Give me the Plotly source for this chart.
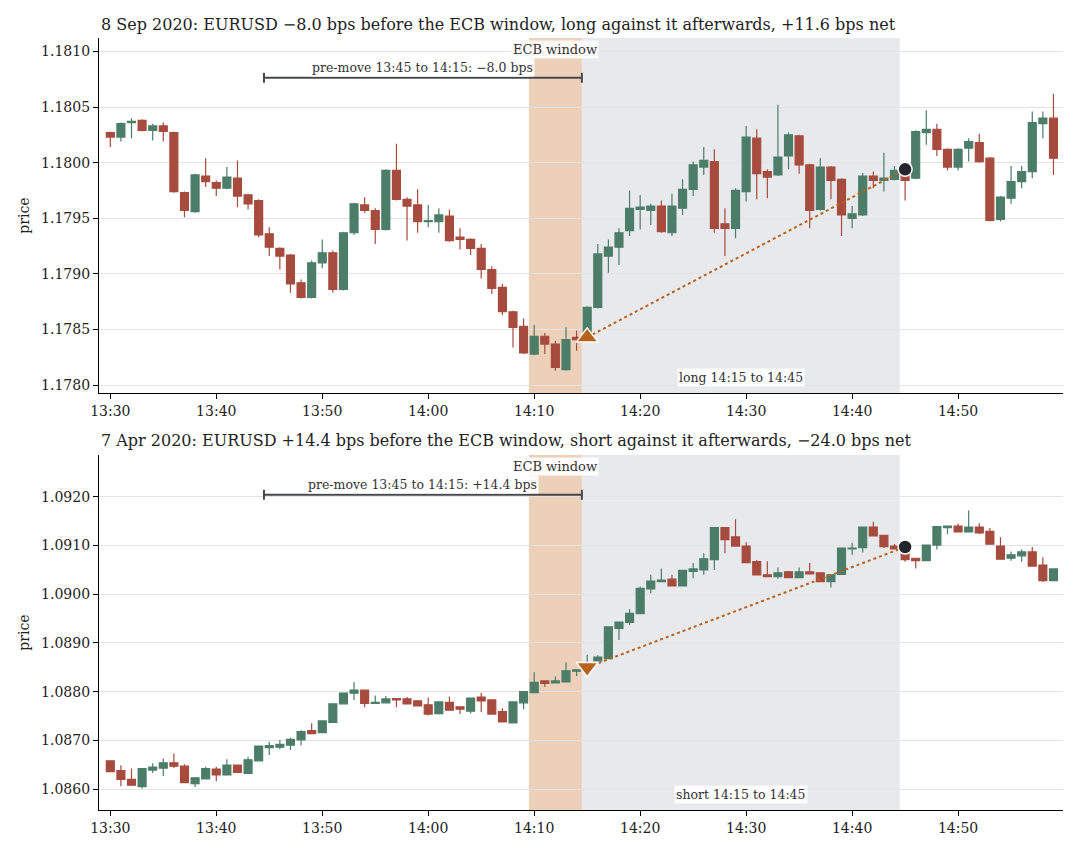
import pandas as pd
import plotly.graph_objects as go
from plotly.subplots import make_subplots

# ---------------- data: 8 Sep 2020, EURUSD 1-minute candles 13:30-14:59 ----------------
sep_open = [1.18027, 1.18023, 1.18036, 1.18038, 1.18029, 1.18033, 1.18027, 1.17973, 1.17956, 1.17988,
            1.17982, 1.17977, 1.17986, 1.17971, 1.17966, 1.17936, 1.17923, 1.17917, 1.17892, 1.17879,
            1.17910, 1.17919, 1.17886, 1.17937, 1.17962, 1.17957, 1.17940, 1.17993, 1.17967, 1.17962,
            1.17947, 1.17947, 1.17952, 1.17933, 1.17931, 1.17923, 1.17904, 1.17888, 1.17866, 1.17853,
            1.17828, 1.17844, 1.17837, 1.17814, 1.17843, 1.17843, 1.17870, 1.17916, 1.17924, 1.17939,
            1.17958, 1.17957, 1.17961, 1.17937, 1.17959, 1.17976, 1.17996, 1.18001, 1.17945, 1.17941,
            1.17974, 1.18022, 1.17992, 1.17989, 1.18006, 1.18024, 1.17998, 1.17958, 1.17996, 1.17985,
            1.17950, 1.17953, 1.17988, 1.17984, 1.17985, 1.17989, 1.17986, 1.18027, 1.18030, 1.18012,
            1.17996, 1.18013, 1.18018, 1.18004, 1.17949, 1.17968, 1.17983, 1.17992, 1.18035, 1.18040]
sep_high = [1.18028, 1.18036, 1.18040, 1.18039, 1.18035, 1.18036, 1.18028, 1.17974, 1.17990, 1.18004,
            1.17984, 1.17996, 1.18002, 1.17972, 1.17967, 1.17942, 1.17924, 1.17918, 1.17895, 1.17912,
            1.17931, 1.17921, 1.17938, 1.17964, 1.17969, 1.17959, 1.17994, 1.18017, 1.17969, 1.17976,
            1.17962, 1.17959, 1.17958, 1.17941, 1.17932, 1.17927, 1.17907, 1.17891, 1.17867, 1.17860,
            1.17854, 1.17847, 1.17840, 1.17852, 1.17849, 1.17871, 1.17927, 1.17931, 1.17941, 1.17975,
            1.17971, 1.17963, 1.17966, 1.17972, 1.17985, 1.18001, 1.18014, 1.18012, 1.17959, 1.17977,
            1.18033, 1.18030, 1.17994, 1.18052, 1.18027, 1.18025, 1.17999, 1.18004, 1.17997, 1.17986,
            1.17961, 1.17991, 1.17992, 1.18009, 1.17997, 1.17994, 1.18029, 1.18047, 1.18035, 1.18013,
            1.18013, 1.18022, 1.18026, 1.18005, 1.17970, 1.17997, 1.17997, 1.18046, 1.18046, 1.18062]
sep_low = [1.18014, 1.18019, 1.18022, 1.18028, 1.18020, 1.18019, 1.17973, 1.17951, 1.17955, 1.17978,
           1.17970, 1.17976, 1.17960, 1.17958, 1.17933, 1.17916, 1.17904, 1.17883, 1.17878, 1.17878,
           1.17905, 1.17883, 1.17885, 1.17935, 1.17955, 1.17927, 1.17939, 1.17966, 1.17930, 1.17937,
           1.17942, 1.17937, 1.17929, 1.17922, 1.17917, 1.17896, 1.17882, 1.17863, 1.17834, 1.17828,
           1.17827, 1.17828, 1.17813, 1.17813, 1.17831, 1.17842, 1.17869, 1.17901, 1.17908, 1.17934,
           1.17940, 1.17944, 1.17937, 1.17934, 1.17953, 1.17970, 1.17989, 1.17937, 1.17916, 1.17932,
           1.17965, 1.17967, 1.17968, 1.17988, 1.17994, 1.17990, 1.17941, 1.17957, 1.17967, 1.17934,
           1.17941, 1.17952, 1.17977, 1.17974, 1.17984, 1.17966, 1.17985, 1.18016, 1.18006, 1.17993,
           1.17993, 1.18001, 1.18000, 1.17947, 1.17947, 1.17963, 1.17977, 1.17986, 1.18022, 1.17989]
sep_close = [1.18023, 1.18035, 1.18037, 1.18029, 1.18033, 1.18028, 1.17974, 1.17957, 1.17989, 1.17983,
             1.17977, 1.17987, 1.17970, 1.17963, 1.17935, 1.17924, 1.17916, 1.17891, 1.17879, 1.17910,
             1.17919, 1.17886, 1.17937, 1.17963, 1.17957, 1.17940, 1.17993, 1.17967, 1.17961, 1.17947,
             1.17948, 1.17953, 1.17930, 1.17931, 1.17923, 1.17904, 1.17887, 1.17866, 1.17852, 1.17829,
             1.17844, 1.17837, 1.17816, 1.17841, 1.17841, 1.17870, 1.17918, 1.17924, 1.17937, 1.17959,
             1.17960, 1.17961, 1.17938, 1.17961, 1.17976, 1.17998, 1.18002, 1.17941, 1.17941, 1.17975,
             1.18023, 1.17990, 1.17987, 1.18005, 1.18025, 1.17998, 1.17957, 1.17996, 1.17984, 1.17953,
             1.17954, 1.17988, 1.17984, 1.17986, 1.17993, 1.17984, 1.18028, 1.18030, 1.18012, 1.17996,
             1.18012, 1.18019, 1.18001, 1.17948, 1.17969, 1.17983, 1.17992, 1.18036, 1.18040, 1.18004]

# ---------------- data: 7 Apr 2020 ----------------
apr_open = [1.08658, 1.08638, 1.08620, 1.08605, 1.08639, 1.08643, 1.08654, 1.08647, 1.08611, 1.08621,
            1.08641, 1.08629, 1.08649, 1.08632, 1.08658, 1.08685, 1.08686, 1.08690, 1.08701, 1.08720,
            1.08716, 1.08737, 1.08775, 1.08797, 1.08803, 1.08776, 1.08777, 1.08786, 1.08785, 1.08781,
            1.08773, 1.08755, 1.08778, 1.08769, 1.08760, 1.08789, 1.08783, 1.08759, 1.08736, 1.08777,
            1.08798, 1.08822, 1.08818, 1.08820, 1.08842, 1.08846, 1.08863, 1.08868, 1.08930, 1.08942,
            1.08960, 1.09011, 1.09026, 1.09031, 1.09017, 1.09047, 1.09050, 1.09071, 1.09137, 1.09118,
            1.09099, 1.09067, 1.09040, 1.09036, 1.09046, 1.09034, 1.09046, 1.09044, 1.09026, 1.09041,
            1.09093, 1.09096, 1.09138, 1.09121, 1.09099, 1.09084, 1.09074, 1.09069, 1.09101, 1.09137,
            1.09140, 1.09128, 1.09138, 1.09129, 1.09099, 1.09074, 1.09079, 1.09087, 1.09060, 1.09028]
apr_high = [1.08659, 1.08649, 1.08642, 1.08643, 1.08653, 1.08663, 1.08673, 1.08651, 1.08624, 1.08646,
            1.08646, 1.08661, 1.08650, 1.08666, 1.08689, 1.08697, 1.08701, 1.08706, 1.08721, 1.08735,
            1.08741, 1.08776, 1.08798, 1.08820, 1.08804, 1.08792, 1.08791, 1.08787, 1.08789, 1.08783,
            1.08788, 1.08780, 1.08790, 1.08770, 1.08788, 1.08798, 1.08784, 1.08766, 1.08780, 1.08801,
            1.08840, 1.08823, 1.08831, 1.08860, 1.08846, 1.08876, 1.08875, 1.08934, 1.08944, 1.08969,
            1.09016, 1.09040, 1.09053, 1.09040, 1.09050, 1.09064, 1.09084, 1.09138, 1.09138, 1.09154,
            1.09107, 1.09070, 1.09068, 1.09055, 1.09048, 1.09055, 1.09064, 1.09045, 1.09041, 1.09096,
            1.09106, 1.09139, 1.09149, 1.09122, 1.09103, 1.09095, 1.09075, 1.09102, 1.09140, 1.09141,
            1.09145, 1.09172, 1.09146, 1.09136, 1.09117, 1.09088, 1.09092, 1.09097, 1.09076, 1.09053]
apr_low = [1.08635, 1.08606, 1.08607, 1.08601, 1.08633, 1.08627, 1.08643, 1.08612, 1.08604, 1.08620,
           1.08616, 1.08628, 1.08633, 1.08631, 1.08657, 1.08670, 1.08682, 1.08680, 1.08690, 1.08713,
           1.08715, 1.08736, 1.08774, 1.08783, 1.08768, 1.08775, 1.08776, 1.08768, 1.08774, 1.08770,
           1.08751, 1.08753, 1.08761, 1.08754, 1.08755, 1.08758, 1.08753, 1.08737, 1.08735, 1.08764,
           1.08797, 1.08810, 1.08817, 1.08819, 1.08832, 1.08845, 1.08862, 1.08867, 1.08906, 1.08937,
           1.08959, 1.09002, 1.09025, 1.09016, 1.09016, 1.09033, 1.09040, 1.09050, 1.09084, 1.09098,
           1.09064, 1.09039, 1.09035, 1.09032, 1.09033, 1.09033, 1.09041, 1.09025, 1.09014, 1.09040,
           1.09081, 1.09086, 1.09119, 1.09095, 1.09092, 1.09067, 1.09053, 1.09068, 1.09092, 1.09124,
           1.09127, 1.09127, 1.09124, 1.09102, 1.09071, 1.09069, 1.09067, 1.09057, 1.09025, 1.09027]
apr_close = [1.08636, 1.08620, 1.08608, 1.08642, 1.08645, 1.08654, 1.08647, 1.08613, 1.08623, 1.08642,
             1.08629, 1.08649, 1.08634, 1.08660, 1.08688, 1.08689, 1.08692, 1.08702, 1.08718, 1.08714,
             1.08740, 1.08775, 1.08797, 1.08803, 1.08776, 1.08778, 1.08785, 1.08783, 1.08775, 1.08771,
             1.08754, 1.08779, 1.08762, 1.08764, 1.08787, 1.08781, 1.08754, 1.08738, 1.08779, 1.08800,
             1.08819, 1.08817, 1.08822, 1.08843, 1.08845, 1.08852, 1.08871, 1.08933, 1.08943, 1.08961,
             1.09012, 1.09027, 1.09029, 1.09017, 1.09049, 1.09052, 1.09073, 1.09137, 1.09112, 1.09099,
             1.09065, 1.09040, 1.09036, 1.09044, 1.09034, 1.09046, 1.09042, 1.09026, 1.09040, 1.09095,
             1.09095, 1.09138, 1.09120, 1.09098, 1.09093, 1.09071, 1.09069, 1.09101, 1.09139, 1.09140,
             1.09128, 1.09138, 1.09126, 1.09103, 1.09072, 1.09081, 1.09087, 1.09058, 1.09028, 1.09052]

# trade markers (entry at 14:15, exit at 14:45)
sep_trade_times = ["2020-09-08 14:15", "2020-09-08 14:45"]
sep_trade_prices = [1.17843, 1.17994]
apr_trade_times = ["2020-04-07 14:15", "2020-04-07 14:45"]
apr_trade_prices = [1.08850, 1.09097]

sep_title = "8 Sep 2020: EURUSD \u22128.0 bps before the ECB window, long against it afterwards, +11.6 bps net"
apr_title = "7 Apr 2020: EURUSD +14.4 bps before the ECB window, short against it afterwards, \u221224.0 bps net"
sep_pre_label = "pre-move 13:45 to 14:15: \u22128.0 bps"
apr_pre_label = "pre-move 13:45 to 14:15: +14.4 bps"
sep_post_label = "long 14:15 to 14:45"
apr_post_label = "short 14:15 to 14:45"

# ---------------- styling ----------------
FONT = "DejaVu Serif"
GREEN = "#4b7d69"
RED = "#a64b3d"
ORANGE_SHADE = "rgba(214,150,100,0.45)"
GRAY_SHADE = "#e8e9ed"
MARK = "#b8621b"
TXT = "#222222"

fig = make_subplots(rows=2, cols=1, vertical_spacing=0.0803)

panels = [
    dict(day="2020-09-08", o=sep_open, h=sep_high, l=sep_low, c=sep_close,
         tt=sep_trade_times, tp=sep_trade_prices, sym="triangle-up",
         title=sep_title, pre=sep_pre_label, post=sep_post_label,
         yr=[1.17793, 1.18112], dt=0.0005, ytitle_y=1.018),
    dict(day="2020-04-07", o=apr_open, h=apr_high, l=apr_low, c=apr_close,
         tt=apr_trade_times, tp=apr_trade_prices, sym="triangle-down",
         title=apr_title, pre=apr_pre_label, post=apr_post_label,
         yr=[1.08557, 1.09286], dt=0.001, ytitle_y=0.478),
]

for i, p in enumerate(panels, start=1):
    d = p["day"]
    times = pd.date_range(f"{d} 13:30", periods=len(p["o"]), freq="min")
    ts = lambda hm: pd.Timestamp(f"{d} {hm}")
    xr = "x" if i == 1 else "x2"
    ydom = "y domain" if i == 1 else "y2 domain"
    # shaded windows (drawn below grid and traces)
    fig.add_shape(type="rect", xref=xr, yref=ydom, x0=ts("14:09:30"), x1=ts("14:14:30"),
                  y0=0, y1=1, fillcolor=ORANGE_SHADE, line_width=0, layer="below")
    fig.add_shape(type="rect", xref=xr, yref=ydom, x0=ts("14:14:30"), x1=ts("14:44:30"),
                  y0=0, y1=1, fillcolor=GRAY_SHADE, line_width=0, layer="below")
    fig.add_trace(go.Candlestick(
        x=times, open=p["o"], high=p["h"], low=p["l"], close=p["c"],
        increasing=dict(line=dict(color=GREEN, width=1.2), fillcolor=GREEN),
        decreasing=dict(line=dict(color=RED, width=1.2), fillcolor=RED),
        whiskerwidth=0, showlegend=False), row=i, col=1)
    # dotted trade path
    fig.add_trace(go.Scatter(x=pd.to_datetime(p["tt"]), y=p["tp"], mode="lines",
                             line=dict(color=MARK, width=2, dash="dot"),
                             showlegend=False, hoverinfo="skip"), row=i, col=1)
    fig.add_trace(go.Scatter(x=pd.to_datetime(p["tt"][:1]), y=p["tp"][:1], mode="markers",
                             marker=dict(symbol=p["sym"], size=19, color=MARK,
                                         line=dict(color="white", width=1.5)),
                             showlegend=False), row=i, col=1)
    fig.add_trace(go.Scatter(x=pd.to_datetime(p["tt"][1:]), y=p["tp"][1:], mode="markers",
                             marker=dict(symbol="circle", size=14, color="#22252b",
                                         line=dict(color="white", width=1.5)),
                             showlegend=False), row=i, col=1)

    # pre-move bracket
    fig.add_shape(type="line", xref=xr, yref=ydom, x0=ts("13:44:30"), x1=ts("14:14:30"),
                  y0=0.888, y1=0.888, line=dict(color="#45474c", width=2))
    for xe in ["13:44:30", "14:14:30"]:
        fig.add_shape(type="line", xref=xr, yref=ydom, x0=ts(xe), x1=ts(xe),
                      y0=0.874, y1=0.902, line=dict(color="#45474c", width=2))
    ann = dict(showarrow=False, xanchor="center", yanchor="middle",
               bgcolor="rgba(255,255,255,0.9)", borderpad=1)
    fig.add_annotation(xref=xr, yref=ydom, x=ts("13:59:30"), y=0.918, text=p["pre"],
                       font=dict(family=FONT, size=12.5, color="#333"), **ann)
    fig.add_annotation(xref=xr, yref=ydom, x=ts("14:12"), y=0.969, text="ECB window",
                       font=dict(family=FONT, size=13, color="#333"), **ann)
    fig.add_annotation(xref=xr, yref=ydom, x=ts("14:29:30"), y=0.045, text=p["post"],
                       font=dict(family=FONT, size=12.5, color="#333"), **ann)
    # panel title
    fig.add_annotation(xref="paper", yref="paper", x=0, y=p["ytitle_y"], xanchor="left",
                       yanchor="middle", text=p["title"], showarrow=False,
                       font=dict(family=FONT, size=16, color=TXT))

    fig.update_xaxes(range=[ts("13:28:56"), ts("14:59:54")], type="date",
                     tick0=ts("13:30"), dtick=600000, tickformat="%H:%M",
                     showgrid=False, showline=True, linecolor="black", linewidth=1.2,
                     ticks="outside", ticklen=5, tickcolor="black", automargin=False,
                     rangeslider_visible=False,
                     tickfont=dict(family=FONT, size=14, color=TXT), row=i, col=1)
    fig.update_yaxes(range=p["yr"], dtick=p["dt"], tickformat=".4f",
                     showgrid=True, gridcolor="#e3e3e3", gridwidth=1, zeroline=False,
                     showline=True, linecolor="black", linewidth=1.2,
                     ticks="outside", ticklen=5, tickcolor="black", automargin=False,
                     title=dict(text="price", font=dict(family=FONT, size=14, color=TXT), standoff=8),
                     tickfont=dict(family=FONT, size=14, color=TXT), row=i, col=1)

# page body has an 8px margin, so the figure is sized/offset to land plot areas where the reference has them
fig.update_layout(width=1064, height=830, plot_bgcolor="white", paper_bgcolor="white",
                  margin=dict(l=91, r=9, t=30, b=28), boxgap=0.25, boxgroupgap=0,
                  font=dict(family=FONT, color=TXT), showlegend=False)

fig.write_html("out.html")
